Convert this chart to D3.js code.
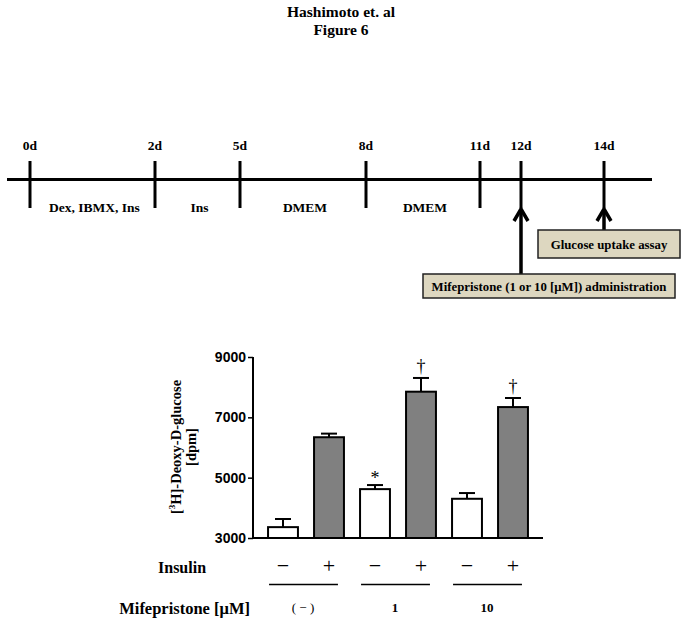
<!DOCTYPE html>
<html>
<head>
<meta charset="utf-8">
<script src="https://d3js.org/d3.v7.min.js"></script>
<style>
body { margin: 0; background: #fff; }
svg { display: block; font-family: "Liberation Serif", "Times New Roman", serif; font-weight: bold; }
</style>
</head>
<body>
<svg id="chart" width="683" height="625"></svg>
<script>
// timeline
var days = [0, 2, 5, 8, 11, 12, 14];
var dayX = [30, 155, 240, 366, 480, 521, 604];   // schematic, not to scale
var periods = [[0, 2, "Dex, IBMX, Ins"], [2, 5, "Ins"], [5, 8, "DMEM"], [8, 11, "DMEM"]];

// bar chart
var insulin = ["−", "+", "−", "+", "−", "+"];
var groups = ["( − )", "1", "10"];
var means = [3360, 6340, 4620, 7850, 4300, 7340];
var errs = [270, 120, 135, 455, 190, 300];
var marks = ["", "", "*", "†", "", "†"];
var yTicks = [3000, 5000, 7000, 9000];

var svg = d3.select("#chart");

svg.append("text").attr("x", 341).attr("y", 16.5).attr("text-anchor", "middle")
	.attr("font-size", 15.5).text("Hashimoto et. al");
svg.append("text").attr("x", 341).attr("y", 34.5).attr("text-anchor", "middle")
	.attr("font-size", 15.5).text("Figure 6");

// ---- timeline ----
var t = d3.scaleLinear().domain(days).range(dayX);
var lineY = 179.5;

svg.append("line").attr("x1", 7).attr("x2", 652).attr("y1", lineY).attr("y2", lineY)
	.attr("stroke", "#000").attr("stroke-width", 3);

svg.selectAll(".dtick").data(days).enter().append("line")
	.attr("x1", d => t(d)).attr("x2", d => t(d))
	.attr("y1", 161).attr("y2", 208)
	.attr("stroke", "#000").attr("stroke-width", 3);

svg.selectAll(".dlab").data(days).enter().append("text")
	.attr("x", d => t(d)).attr("y", 150).attr("text-anchor", "middle")
	.attr("font-size", 13.5).text(d => d + "d");

svg.selectAll(".plab").data(periods).enter().append("text")
	.attr("x", d => (t(d[0]) + t(d[1])) / 2 + 2).attr("y", 212).attr("text-anchor", "middle")
	.attr("font-size", 13.5).text(d => d[2]);

function arrow(day, yEnd) {
	var x = t(day);
	svg.append("line").attr("x1", x).attr("x2", x).attr("y1", 209).attr("y2", yEnd)
		.attr("stroke", "#000").attr("stroke-width", 3.5);
	svg.append("path").attr("d", `M${x - 7},${221} L${x},${209} L${x + 7},${221}`)
		.attr("fill", "none").attr("stroke", "#000").attr("stroke-width", 3.5);
}
arrow(12, 274);
arrow(14, 230);

function box(x, y, w, h, label) {
	svg.append("rect").attr("x", x).attr("y", y).attr("width", w).attr("height", h)
		.attr("fill", "#ddd7c0").attr("stroke", "#222").attr("stroke-width", 1.5);
	svg.append("text").attr("x", x + w / 2).attr("y", y + h / 2 + 4.5).attr("text-anchor", "middle")
		.attr("font-size", 12.8).text(label);
}
box(538, 230, 142, 28, "Glucose uptake assay");
box(423, 274, 252, 24, "Mifepristone (1 or 10 [μM]) administration");

// ---- bar chart ----
var x = d3.scaleBand().domain(d3.range(means.length)).range([260, 536])
	.paddingInner(0.35).paddingOuter(0.175);
var y = d3.scaleLinear().domain([3000, 9000]).range([538, 357]);

var yAxis = svg.append("g").attr("transform", "translate(253,0)")
	.call(d3.axisLeft(y).tickValues(yTicks).tickSize(5).tickPadding(2).tickFormat(d3.format("d")));
yAxis.select(".domain").attr("stroke-width", 2).attr("d", "M0,357V538");
yAxis.selectAll(".tick line").attr("stroke-width", 1.5);
yAxis.selectAll(".tick text").attr("font-size", 14).attr("font-family", null).attr("font-weight", "bold");

svg.append("line").attr("x1", 253).attr("x2", 543).attr("y1", 538).attr("y2", 538)
	.attr("stroke", "#000").attr("stroke-width", 2);

var ylab = svg.append("text").attr("transform", "translate(181,447) rotate(-90)")
	.attr("text-anchor", "middle").attr("font-size", 14.5);
ylab.append("tspan").text("[");
ylab.append("tspan").attr("font-size", 9).attr("dy", -6).text("3");
ylab.append("tspan").attr("dy", 6).text("H]-Deoxy-D-glucose");
svg.append("text").attr("transform", "translate(196,447) rotate(-90)")
	.attr("text-anchor", "middle").attr("font-size", 14.5).text("[dpm]");

var bars = svg.selectAll(".bar").data(means).enter();

bars.append("line")
	.attr("x1", (d, i) => x(i) + x.bandwidth() / 2).attr("x2", (d, i) => x(i) + x.bandwidth() / 2)
	.attr("y1", d => y(d)).attr("y2", (d, i) => y(d + errs[i]))
	.attr("stroke", "#000").attr("stroke-width", 2);
bars.append("line")
	.attr("x1", (d, i) => x(i) + x.bandwidth() / 2 - 8).attr("x2", (d, i) => x(i) + x.bandwidth() / 2 + 8)
	.attr("y1", (d, i) => y(d + errs[i])).attr("y2", (d, i) => y(d + errs[i]))
	.attr("stroke", "#000").attr("stroke-width", 2);

bars.append("rect")
	.attr("x", (d, i) => x(i)).attr("width", x.bandwidth())
	.attr("y", d => y(d)).attr("height", d => y(3000) - y(d))
	.attr("fill", (d, i) => i % 2 ? "#808080" : "#fff")
	.attr("stroke", "#000").attr("stroke-width", 2);

bars.append("text")
	.attr("x", (d, i) => x(i) + x.bandwidth() / 2)
	.attr("y", (d, i) => y(d + errs[i]) - (marks[i] == "*" ? 1 : 6))
	.attr("text-anchor", "middle").attr("font-weight", "normal")
	.attr("font-size", 18).attr("fill", "#000")
	.text((d, i) => marks[i]);

// insulin row
svg.append("text").attr("x", 158).attr("y", 573).attr("font-size", 16).text("Insulin");
svg.selectAll(".ins").data(insulin).enter().append("text")
	.attr("x", (d, i) => x(i) + x.bandwidth() / 2).attr("y", 573)
	.attr("text-anchor", "middle").attr("font-weight", "normal").attr("font-size", 22)
	.attr("fill", "#000")
	.text(d => d);

svg.selectAll(".grp").data(groups).enter().append("line")
	.attr("x1", (d, i) => x(2 * i) + 1).attr("x2", (d, i) => x(2 * i + 1) + x.bandwidth() - 6)
	.attr("y1", 584.5).attr("y2", 584.5)
	.attr("stroke", "#000").attr("stroke-width", 1.5);

svg.append("text").attr("x", 250).attr("y", 614).attr("text-anchor", "end")
	.attr("font-size", 16.5).text("Mifepristone [μM]");
svg.selectAll(".glab").data(groups).enter().append("text")
	.attr("x", (d, i) => (x(2 * i) + x(2 * i + 1) + x.bandwidth()) / 2 - 3).attr("y", 612)
	.attr("text-anchor", "middle").attr("font-size", 13)
	.attr("font-weight", (d, i) => i == 0 ? "normal" : "bold")
	.text(d => d);
</script>
</body>
</html>
